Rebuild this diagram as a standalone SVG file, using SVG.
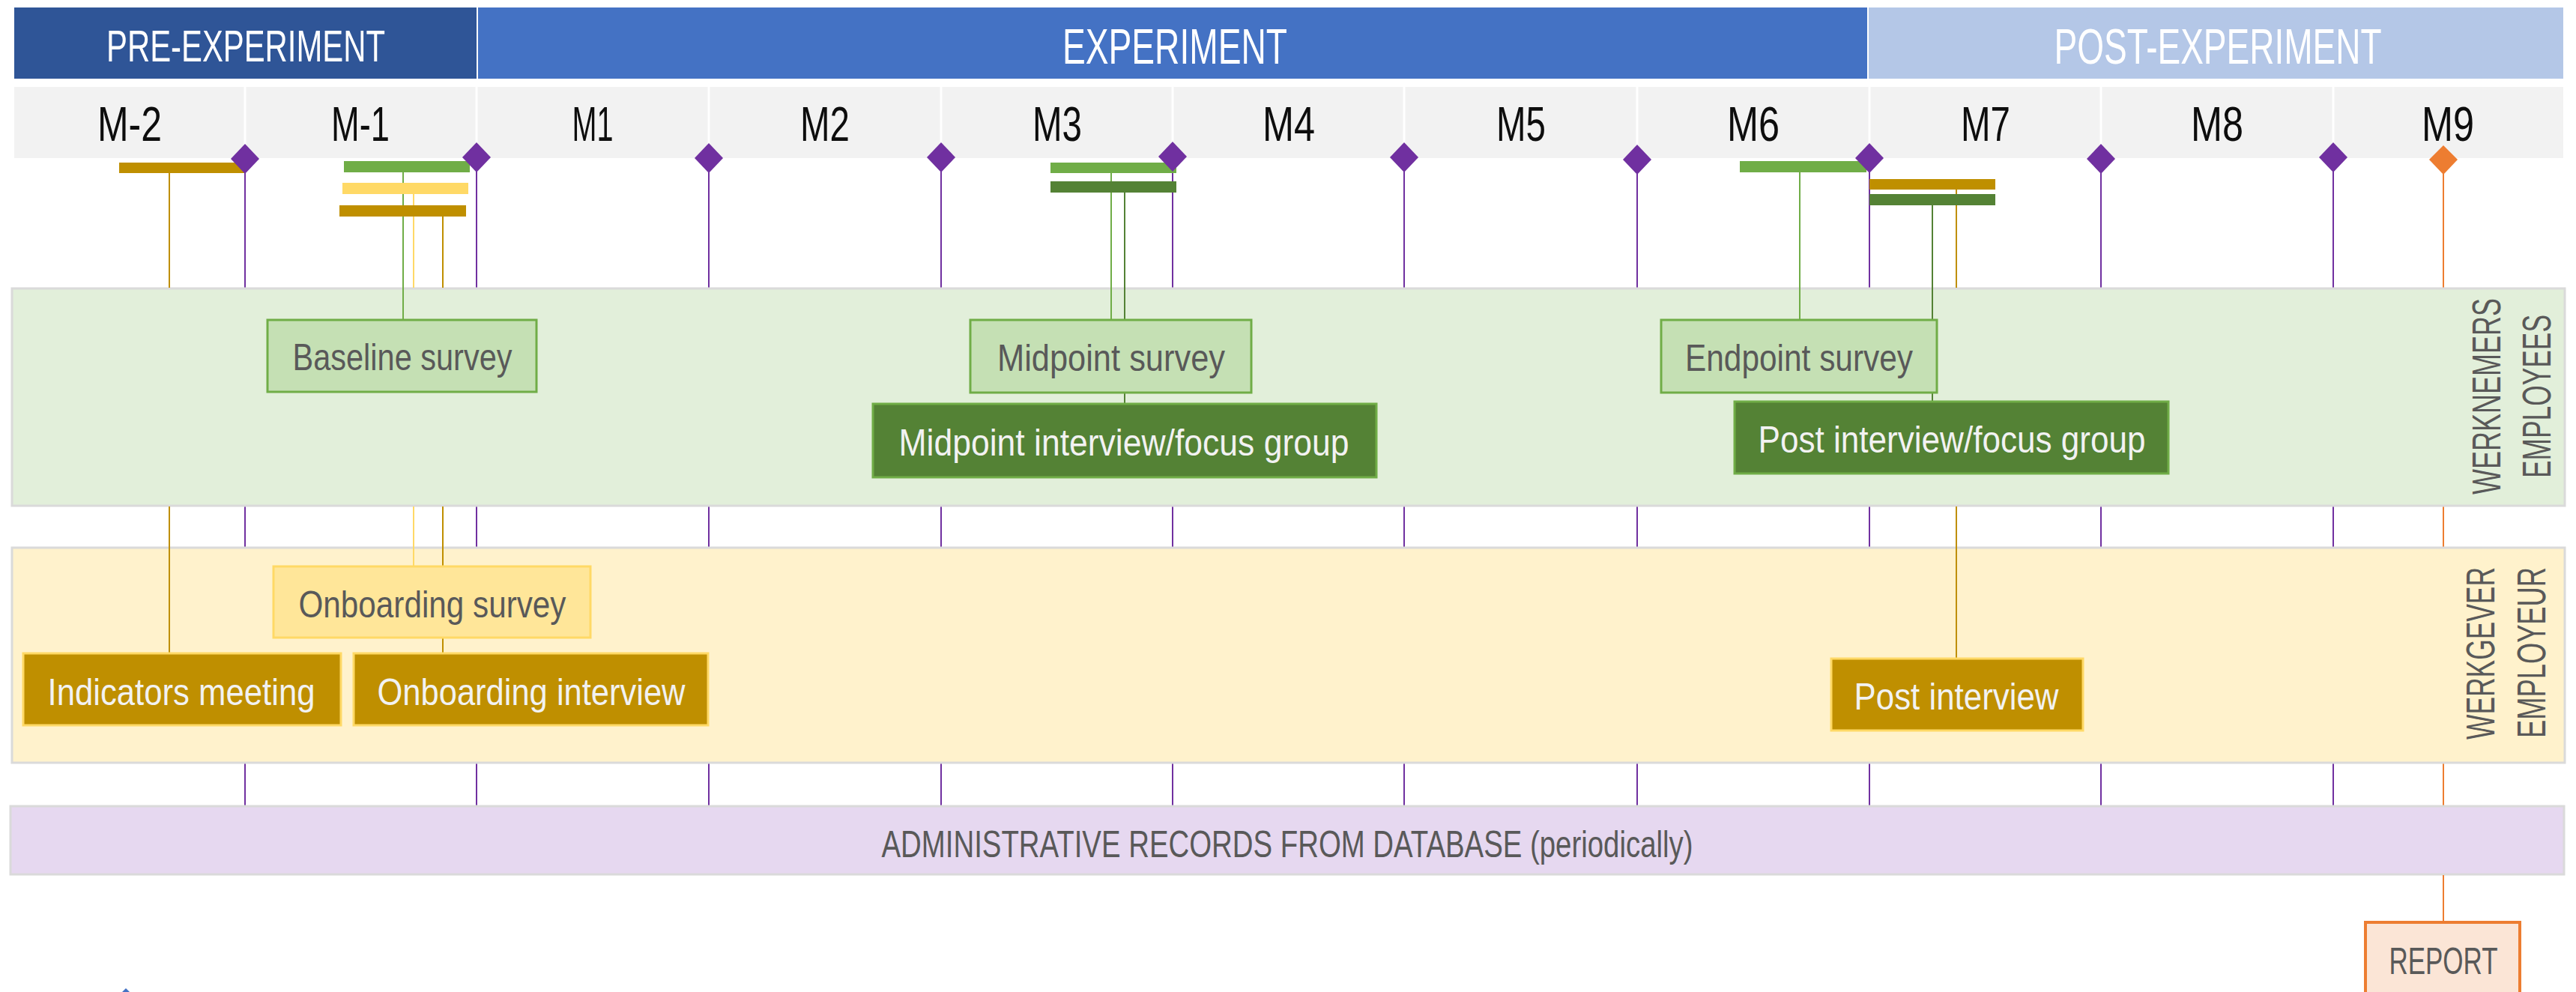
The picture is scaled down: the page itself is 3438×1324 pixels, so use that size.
<svg xmlns="http://www.w3.org/2000/svg" width="3438" height="1324" viewBox="0 0 3438 1324">
<style>
text{font-family:"Liberation Sans",Arial,sans-serif;}
.hdr{fill:#ffffff;text-anchor:middle;}
.mon{fill:#0d0d0d;font-size:65px;text-anchor:middle;}
.div{stroke:#ffffff;stroke-width:3;}
.tl{stroke:#7030a0;stroke-width:2;fill:none;}
.tlo{stroke:#ed7d31;stroke-width:2;fill:none;}
.band{stroke:#dadada;stroke-width:3;}
.lab{fill:#595959;font-size:50px;text-anchor:middle;}
.labw{fill:#f2f2f2;font-size:50px;text-anchor:middle;}
.side{fill:#595959;font-size:53px;text-anchor:middle;}
.cn{fill:none;stroke-width:2;}
</style>
<rect width="3438" height="1324" fill="#ffffff"/>

<g id="phases">
  <rect x="19" y="10" width="617" height="95" fill="#2f5597"/>
  <rect x="638" y="10" width="1854" height="95" fill="#4472c4"/>
  <rect x="2494" y="10" width="927" height="95" fill="#b4c7e7"/>
  <text class="hdr" x="328" y="82" font-size="60" textLength="372" lengthAdjust="spacingAndGlyphs">PRE-EXPERIMENT</text>
  <text class="hdr" x="1568" y="85" font-size="66" textLength="300" lengthAdjust="spacingAndGlyphs">EXPERIMENT</text>
  <text class="hdr" x="2960" y="85" font-size="66" textLength="437" lengthAdjust="spacingAndGlyphs">POST-EXPERIMENT</text>
</g>

<g id="months">
  <rect x="19" y="116" width="3402" height="95" fill="#f2f2f2"/>
  <line class="div" x1="327" y1="116" x2="327" y2="211"/>
  <line class="div" x1="636" y1="116" x2="636" y2="211"/>
  <line class="div" x1="946" y1="116" x2="946" y2="211"/>
  <line class="div" x1="1256" y1="116" x2="1256" y2="211"/>
  <line class="div" x1="1565" y1="116" x2="1565" y2="211"/>
  <line class="div" x1="1874" y1="116" x2="1874" y2="211"/>
  <line class="div" x1="2185" y1="116" x2="2185" y2="211"/>
  <line class="div" x1="2495" y1="116" x2="2495" y2="211"/>
  <line class="div" x1="2804" y1="116" x2="2804" y2="211"/>
  <line class="div" x1="3114" y1="116" x2="3114" y2="211"/>
  <text class="mon" x="173" y="188" textLength="86" lengthAdjust="spacingAndGlyphs">M-2</text>
  <text class="mon" x="481" y="188" textLength="78" lengthAdjust="spacingAndGlyphs">M-1</text>
  <text class="mon" x="791" y="188" textLength="55" lengthAdjust="spacingAndGlyphs">M1</text>
  <text class="mon" x="1101" y="188" textLength="66" lengthAdjust="spacingAndGlyphs">M2</text>
  <text class="mon" x="1411" y="188" textLength="66" lengthAdjust="spacingAndGlyphs">M3</text>
  <text class="mon" x="1720" y="188" textLength="70" lengthAdjust="spacingAndGlyphs">M4</text>
  <text class="mon" x="2030" y="188" textLength="66" lengthAdjust="spacingAndGlyphs">M5</text>
  <text class="mon" x="2340" y="188" textLength="70" lengthAdjust="spacingAndGlyphs">M6</text>
  <text class="mon" x="2650" y="188" textLength="66" lengthAdjust="spacingAndGlyphs">M7</text>
  <text class="mon" x="2959" y="188" textLength="70" lengthAdjust="spacingAndGlyphs">M8</text>
  <text class="mon" x="3267" y="188" textLength="70" lengthAdjust="spacingAndGlyphs">M9</text>
</g>

<g id="timeline-lines">
  <line class="tl" x1="327" y1="211" x2="327" y2="1076"/>
  <line class="tl" x1="636" y1="211" x2="636" y2="1076"/>
  <line class="tl" x1="946" y1="211" x2="946" y2="1076"/>
  <line class="tl" x1="1256" y1="211" x2="1256" y2="1076"/>
  <line class="tl" x1="1565" y1="211" x2="1565" y2="1076"/>
  <line class="tl" x1="1874" y1="211" x2="1874" y2="1076"/>
  <line class="tl" x1="2185" y1="211" x2="2185" y2="1076"/>
  <line class="tl" x1="2495" y1="211" x2="2495" y2="1076"/>
  <line class="tl" x1="2804" y1="211" x2="2804" y2="1076"/>
  <line class="tl" x1="3114" y1="211" x2="3114" y2="1076"/>
  <line class="tlo" x1="3261" y1="211" x2="3261" y2="1231"/>
</g>

<g id="band-employees">
  <rect class="band" x="16" y="385" width="3407" height="290" fill="#e2efda"/>
  <text class="side" transform="translate(3337,529) rotate(-90)" textLength="262" lengthAdjust="spacingAndGlyphs">WERKNEMERS</text>
  <text class="side" transform="translate(3404,529) rotate(-90)" textLength="218" lengthAdjust="spacingAndGlyphs">EMPLOYEES</text>
</g>
<g id="band-employer">
  <rect class="band" x="16" y="731" width="3407" height="287" fill="#fff2cc"/>
  <text class="side" transform="translate(3329,872) rotate(-90)" textLength="230" lengthAdjust="spacingAndGlyphs">WERKGEVER</text>
  <text class="side" transform="translate(3397,871) rotate(-90)" textLength="228" lengthAdjust="spacingAndGlyphs">EMPLOYEUR</text>
</g>
<g id="band-admin">
  <rect class="band" x="14" y="1076" width="3408" height="91" fill="#e6d8f0"/>
  <text class="lab" x="1718" y="1144" font-size="51" textLength="1083" lengthAdjust="spacingAndGlyphs">ADMINISTRATIVE RECORDS FROM DATABASE (periodically)</text>
</g>

<g id="connectors">
  <line class="cn" stroke="#bf8f00" x1="226" y1="231" x2="226" y2="384"/>
  <line class="cn" stroke="#bf8f00" x1="226" y1="676" x2="226" y2="872"/>
  <line class="cn" stroke="#ffd966" x1="552" y1="259" x2="552" y2="384"/>
  <line class="cn" stroke="#ffd966" x1="552" y1="676" x2="552" y2="756"/>
  <line class="cn" stroke="#bf8f00" x1="591" y1="289" x2="591" y2="384"/>
  <line class="cn" stroke="#bf8f00" x1="591" y1="676" x2="591" y2="872"/>
  <line class="cn" stroke="#bf8f00" x1="2611" y1="253" x2="2611" y2="384"/>
  <line class="cn" stroke="#bf8f00" x1="2611" y1="676" x2="2611" y2="879"/>
  <line class="cn" stroke="#70ad47" x1="538" y1="230" x2="538" y2="427"/>
  <line class="cn" stroke="#70ad47" x1="1483" y1="231" x2="1483" y2="427"/>
  <line class="cn" stroke="#548235" x1="1501" y1="257" x2="1501" y2="539"/>
  <line class="cn" stroke="#70ad47" x1="2402" y1="230" x2="2402" y2="427"/>
  <line class="cn" stroke="#548235" x1="2579" y1="274" x2="2579" y2="536"/>
  <line class="cn" stroke="#ed7d31" x1="3261" y1="1168" x2="3261" y2="1231"/>
</g>

<g id="bars">
  <rect id="bar-indicators" x="159" y="217" width="168" height="14" fill="#bf8f00"/>
  <rect id="bar-baseline" x="459" y="215" width="168" height="15" fill="#70ad47"/>
  <rect id="bar-onb-survey" x="457" y="244" width="168" height="15" fill="#ffd966"/>
  <rect id="bar-onb-interview" x="453" y="274" width="169" height="15" fill="#bf8f00"/>
  <rect id="bar-mid-survey" x="1402" y="217" width="168" height="14" fill="#70ad47"/>
  <rect id="bar-mid-interview" x="1402" y="242" width="168" height="15" fill="#548235"/>
  <rect id="bar-end-survey" x="2322" y="215" width="169" height="15" fill="#70ad47"/>
  <rect id="bar-post-interview" x="2495" y="239" width="168" height="14" fill="#bf8f00"/>
  <rect id="bar-post-focus" x="2495" y="259" width="168" height="15" fill="#548235"/>
</g>

<g id="milestones" fill="#7030a0">
  <polygon points="327,192 346,212 327,232 308,212"/>
  <polygon points="636,190 655,210 636,230 617,210"/>
  <polygon points="946,191 965,211 946,231 927,211"/>
  <polygon points="1256,190 1275,210 1256,230 1237,210"/>
  <polygon points="1565,189 1584,209 1565,229 1546,209"/>
  <polygon points="1874,190 1893,210 1874,230 1855,210"/>
  <polygon points="2185,193 2204,213 2185,233 2166,213"/>
  <polygon points="2495,191 2514,211 2495,231 2476,211"/>
  <polygon points="2804,192 2823,212 2804,232 2785,212"/>
  <polygon points="3114,190 3133,210 3114,230 3095,210"/>
  <polygon points="3261,194 3280,213 3261,233 3242,213" fill="#ed7d31"/>
</g>

<g id="node-baseline-survey">
  <rect x="357" y="427" width="359" height="96" fill="#c5e0b4" stroke="#70ad47" stroke-width="3"/>
  <text class="lab" x="537" y="494" textLength="293" lengthAdjust="spacingAndGlyphs">Baseline survey</text>
</g>
<g id="node-midpoint-survey">
  <rect x="1295" y="427" width="375" height="97" fill="#c5e0b4" stroke="#70ad47" stroke-width="3"/>
  <text class="lab" x="1483" y="495" textLength="304" lengthAdjust="spacingAndGlyphs">Midpoint survey</text>
</g>
<g id="node-midpoint-interview">
  <rect x="1165" y="539" width="672" height="98" fill="#548235" stroke="#70ad47" stroke-width="3"/>
  <text class="labw" x="1500" y="608" textLength="601" lengthAdjust="spacingAndGlyphs">Midpoint interview/focus group</text>
</g>
<g id="node-endpoint-survey">
  <rect x="2217" y="427" width="368" height="97" fill="#c5e0b4" stroke="#70ad47" stroke-width="3"/>
  <text class="lab" x="2401" y="495" textLength="304" lengthAdjust="spacingAndGlyphs">Endpoint survey</text>
</g>
<g id="node-post-focus">
  <rect x="2315" y="536" width="579" height="96" fill="#548235" stroke="#70ad47" stroke-width="3"/>
  <text class="labw" x="2605" y="604" textLength="517" lengthAdjust="spacingAndGlyphs">Post interview/focus group</text>
</g>
<g id="node-onboarding-survey">
  <rect x="365" y="756" width="423" height="95" fill="#ffe699" stroke="#ffd966" stroke-width="3"/>
  <text class="lab" x="577" y="824" textLength="357" lengthAdjust="spacingAndGlyphs">Onboarding survey</text>
</g>
<g id="node-indicators-meeting">
  <rect x="31" y="872" width="424" height="96" fill="#bf8f00" stroke="#ffd966" stroke-width="3"/>
  <text class="labw" x="242" y="941" textLength="357" lengthAdjust="spacingAndGlyphs">Indicators meeting</text>
</g>
<g id="node-onboarding-interview">
  <rect x="472" y="872" width="473" height="96" fill="#bf8f00" stroke="#ffd966" stroke-width="3"/>
  <text class="labw" x="709" y="941" textLength="411" lengthAdjust="spacingAndGlyphs">Onboarding interview</text>
</g>
<g id="node-post-interview">
  <rect x="2444" y="879" width="336" height="96" fill="#bf8f00" stroke="#ffd966" stroke-width="3"/>
  <text class="labw" x="2611" y="947" textLength="273" lengthAdjust="spacingAndGlyphs">Post interview</text>
</g>
<g id="node-report">
  <rect x="3157" y="1231" width="206" height="110" fill="#fbe5d6" stroke="#ed7d31" stroke-width="4"/>
  <text class="lab" x="3261" y="1300" font-size="50" textLength="145" lengthAdjust="spacingAndGlyphs">REPORT</text>
</g>

<polygon points="163,1324 168,1319 173,1324" fill="#4472c4"/>
</svg>
